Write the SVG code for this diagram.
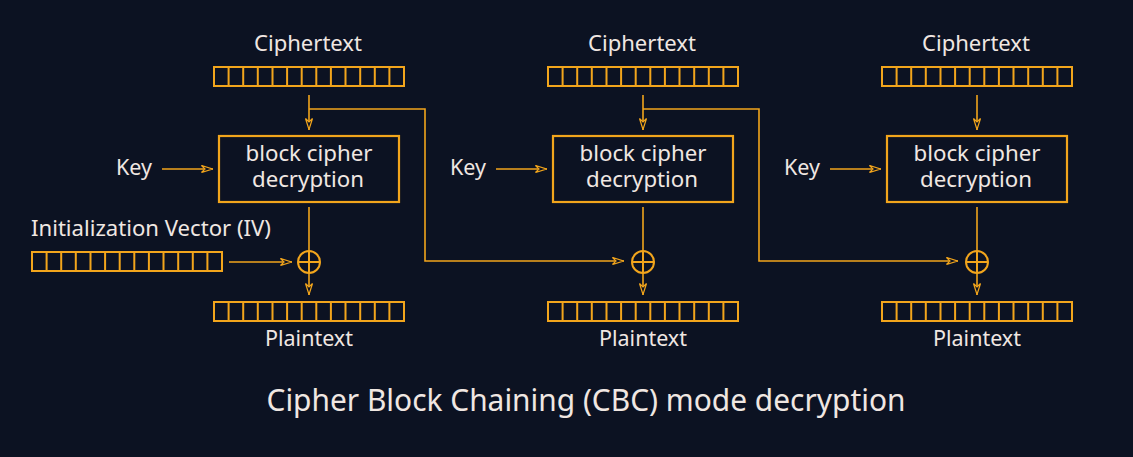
<svg xmlns="http://www.w3.org/2000/svg" xmlns:xlink="http://www.w3.org/1999/xlink" width="1133" height="457" viewBox="0 0 1133 457">
<style>
.t{font-family:"Noto Sans","Open Sans","DejaVu Sans",sans-serif;fill:#f0e7e2;}
.s{font-size:21px;}
.title{font-size:31px;}
.ln{stroke:#f2a51c;stroke-width:1.6;fill:none;}
.reg{stroke:#f2a51c;stroke-width:2;fill:none;}
.box{stroke:#f2a51c;stroke-width:2.2;fill:none;}
.x{stroke:#f2a51c;stroke-width:2;fill:none;}
</style>
<defs>
<marker id="ah" viewBox="0 0 12 8" refX="12" refY="4" markerWidth="12" markerHeight="8" markerUnits="userSpaceOnUse" orient="auto">
<path d="M0.5,0.5 L11.5,4 L0.5,7.5 L4,4 Z" fill="#0c1222" stroke="#f2a51c" stroke-width="1.2"/>
</marker>
<g id="reg">
<rect class="reg" x="0" y="0" width="190" height="19"/>
<path class="reg" d="M14.6,0V19M29.2,0V19M43.8,0V19M58.5,0V19M73.1,0V19M87.7,0V19M102.3,0V19M116.9,0V19M131.5,0V19M146.2,0V19M160.8,0V19M175.4,0V19"/>
</g>
<g id="xor">
<circle class="x" cx="0" cy="0" r="11"/>
<path class="x" d="M-11,0H11M0,-11V11"/>
</g>
</defs>
<rect x="0" y="0" width="1133" height="457" fill="#0c1222"/>

<g id="connectors">
<path class="ln" d="M309,95V130" marker-end="url(#ah)"/>
<path class="ln" d="M643,95V130" marker-end="url(#ah)"/>
<path class="ln" d="M977,95V130" marker-end="url(#ah)"/>
<path class="ln" d="M162,169H213" marker-end="url(#ah)"/>
<path class="ln" d="M496,169H547" marker-end="url(#ah)"/>
<path class="ln" d="M830,169H881" marker-end="url(#ah)"/>
<path class="ln" d="M309,207V251"/>
<path class="ln" d="M643,207V251"/>
<path class="ln" d="M977,207V251"/>
<path class="ln" d="M309,273V295" marker-end="url(#ah)"/>
<path class="ln" d="M643,273V295" marker-end="url(#ah)"/>
<path class="ln" d="M977,273V295" marker-end="url(#ah)"/>
<path class="ln" d="M229,262H292" marker-end="url(#ah)"/>
<path class="ln" d="M309,109H425V261H624" marker-end="url(#ah)"/>
<path class="ln" d="M643,109H759V261H958" marker-end="url(#ah)"/>
</g>

<g id="ct1"><text class="t s" x="308" y="51" text-anchor="middle" textLength="108" lengthAdjust="spacingAndGlyphs">Ciphertext</text><use xlink:href="#reg" x="214" y="67"/></g>
<g id="ct2"><text class="t s" x="642" y="51" text-anchor="middle" textLength="108" lengthAdjust="spacingAndGlyphs">Ciphertext</text><use xlink:href="#reg" x="548" y="67"/></g>
<g id="ct3"><text class="t s" x="976" y="51" text-anchor="middle" textLength="108" lengthAdjust="spacingAndGlyphs">Ciphertext</text><use xlink:href="#reg" x="882" y="67"/></g>

<g id="bc1"><rect class="box" x="219" y="136" width="180" height="66"/>
<text class="t s" x="309" y="161" text-anchor="middle" textLength="127" lengthAdjust="spacingAndGlyphs">block cipher</text>
<text class="t s" x="308" y="187" text-anchor="middle" textLength="112" lengthAdjust="spacingAndGlyphs">decryption</text></g>
<g id="bc2"><rect class="box" x="553" y="136" width="180" height="66"/>
<text class="t s" x="643" y="161" text-anchor="middle" textLength="127" lengthAdjust="spacingAndGlyphs">block cipher</text>
<text class="t s" x="642" y="187" text-anchor="middle" textLength="112" lengthAdjust="spacingAndGlyphs">decryption</text></g>
<g id="bc3"><rect class="box" x="887" y="136" width="180" height="66"/>
<text class="t s" x="977" y="161" text-anchor="middle" textLength="127" lengthAdjust="spacingAndGlyphs">block cipher</text>
<text class="t s" x="976" y="187" text-anchor="middle" textLength="112" lengthAdjust="spacingAndGlyphs">decryption</text></g>

<g id="key1"><text class="t s" x="116" y="175" textLength="36" lengthAdjust="spacingAndGlyphs">Key</text></g>
<g id="key2"><text class="t s" x="450" y="175" textLength="36" lengthAdjust="spacingAndGlyphs">Key</text></g>
<g id="key3"><text class="t s" x="784" y="175" textLength="36" lengthAdjust="spacingAndGlyphs">Key</text></g>

<g id="iv"><text class="t s" x="31" y="236" textLength="240" lengthAdjust="spacingAndGlyphs">Initialization Vector (IV)</text><use xlink:href="#reg" x="32" y="252"/></g>

<g id="xor1"><use xlink:href="#xor" x="309" y="262"/></g>
<g id="xor2"><use xlink:href="#xor" x="643" y="262"/></g>
<g id="xor3"><use xlink:href="#xor" x="977" y="262"/></g>

<g id="pt1"><use xlink:href="#reg" x="214" y="302"/><text class="t s" x="309" y="346" text-anchor="middle" textLength="88" lengthAdjust="spacingAndGlyphs">Plaintext</text></g>
<g id="pt2"><use xlink:href="#reg" x="548" y="302"/><text class="t s" x="643" y="346" text-anchor="middle" textLength="88" lengthAdjust="spacingAndGlyphs">Plaintext</text></g>
<g id="pt3"><use xlink:href="#reg" x="882" y="302"/><text class="t s" x="977" y="346" text-anchor="middle" textLength="88" lengthAdjust="spacingAndGlyphs">Plaintext</text></g>

<g id="title"><text class="t title" x="586" y="411" text-anchor="middle" textLength="639" lengthAdjust="spacingAndGlyphs">Cipher Block Chaining (CBC) mode decryption</text></g>
</svg>
